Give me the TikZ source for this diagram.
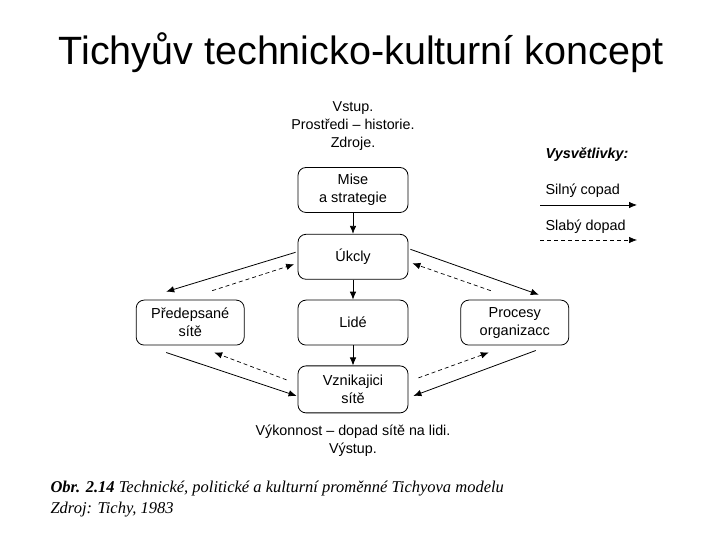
\documentclass[tikz,border=0pt]{standalone}
\usepackage{fontspec}
\setmainfont{Liberation Sans}
\newfontfamily\capfont{Liberation Serif}
\usetikzlibrary{arrows.meta, positioning, calc}

\begin{document}
\begin{tikzpicture}[
    x=1bp, y=1bp,
    >={Latex[length=8bp, width=6.5bp]},
    box/.style={draw, rounded corners=8bp, minimum width=110bp, minimum height=45bp, align=center, font=\fontsize{14.5bp}{18bp}\selectfont, line width=0.8bp, inner sep=2bp},
    txt/.style={align=center, font=\fontsize{14.3bp}{18bp}\selectfont},
    legtxt/.style={anchor=base west, font=\fontsize{14.4bp}{17bp}\selectfont},
    captxt/.style={anchor=base west, font=\capfont\fontsize{16.5bp}{19bp}\selectfont\itshape},
    strong/.style={->, line width=0.8bp},
    weak/.style={->, line width=0.7bp, dash pattern=on 4bp off 3bp},
    node distance=20bp,
]
    \useasboundingbox (0,0) rectangle (720,540);

    % Title
    \node[anchor=base, font=\fontsize{39.5bp}{44bp}\selectfont] (title) at (361,475) {Tichyův technicko-kulturní koncept};

    % Middle column
    \node[box] (mise) at (353,350) {Mise\\a strategie};
    \node[box, below=21bp of mise] (ukoly) {Úkcly};
    \node[box, below=of ukoly] (lide) {Lidé};
    \node[box, below=of lide, minimum height=47bp] (vznik) {Vznikajici\\sítě};

    % Side boxes
    \node[box, left=53bp of lide, minimum width=108bp] (preds) {Předepsané\\sítě};
    \node[box, right=52bp of lide, minimum width=108bp] (procesy) {Procesy\\organizacc};

    % Input and output texts
    \node[txt, above=13bp of mise] (vstup) {Vstup.\\Prostředi – historie.\\Zdroje.};
    \node[txt, below=8bp of vznik] (vystup) {Výkonnost – dopad sítě na lidi.\\Výstup.};

    % Column arrows
    \draw[strong] (mise) -- (ukoly);
    \draw[strong] (ukoly) -- (lide);
    \draw[strong] (lide) -- (vznik);

    % Upper side arrows
    \draw[strong] ([shift={(-2,4.5)}]ukoly.west) -- ([shift={(-24,8)}]preds.north);
    \draw[weak] ([shift={(22,9)}]preds.north) -- ([shift={(-3.5,-7.5)}]ukoly.west);
    \draw[strong] ([shift={(2,7.5)}]ukoly.east) -- ([shift={(24,5)}]procesy.north);
    \draw[weak] ([shift={(-24,9)}]procesy.north) -- ([shift={(4,-6.5)}]ukoly.east);

    % Lower side arrows
    \draw[strong] ([shift={(-24,-7)}]preds.south) -- ([shift={(-1,-6.5)}]vznik.west);
    \draw[weak] ([shift={(-11,9.5)}]vznik.west) -- ([shift={(24,-7)}]preds.south);
    \draw[weak] ([shift={(10,11.5)}]vznik.east) -- ([shift={(-26,-7)}]procesy.south);
    \draw[strong] ([shift={(21,-5)}]procesy.south) -- ([shift={(5,-6.5)}]vznik.east);

    % Legend
    \node[legtxt, font=\fontsize{14.4bp}{17bp}\selectfont\bfseries\itshape] (legend) at (542,381) {Vysvětlivky:};
    \node[legtxt] (silny) at (542,345) {Silný copad};
    \node[legtxt] (slaby) at (542,309) {Slabý dopad};
    \coordinate (silnyA) at (540,335);
    \coordinate (silnyB) at (637,335);
    \coordinate (slabyA) at (540,300);
    \coordinate (slabyB) at (637,300);
    \draw[strong] (silnyA) -- (silnyB);
    \draw[weak] (slabyA) -- (slabyB);

    % Caption
    \node[captxt] (caption) at (47,47) {\textbf{Obr. 2.14} Technické, politické a kulturní proměnné Tichyova modelu};
    \node[captxt] (zdroj) at (47,26) {Zdroj: Tichy, 1983};
\end{tikzpicture}
\end{document}
